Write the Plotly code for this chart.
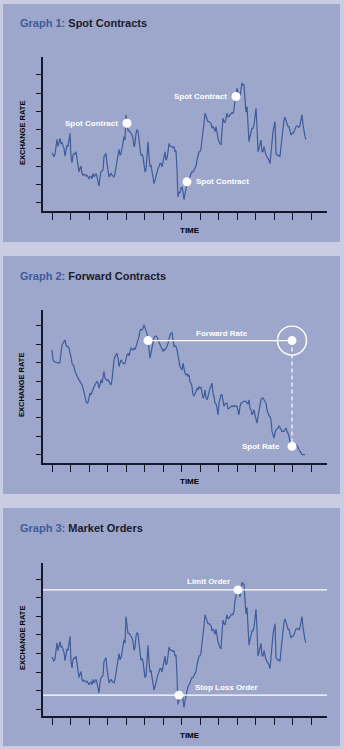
import plotly.graph_objects as go

# ---- data -------------------------------------------------------------
# Exchange-rate path shared by the spot-contract and market-order charts
spot_path = [
    17.2, 16.5, 16.0, 16.8, 20.0, 21.2, 19.0, 20.5, 21.5, 20.0,
    20.2, 19.3, 18.5, 16.2, 18.0, 19.5, 19.0, 21.0, 23.0, 16.0,
    14.2, 16.5, 17.0, 16.8, 17.5, 15.5, 13.0, 11.5, 12.5, 13.2,
    11.0, 10.5, 10.8, 10.5, 10.2, 10.5, 10.0, 9.5, 10.0, 10.2,
    9.5, 11.0, 10.0, 10.5, 11.0, 10.0, 8.5, 7.2, 10.0, 11.5,
    11.8, 12.0, 16.0, 16.8, 17.0, 14.0, 12.0, 10.0, 10.5, 11.0,
    10.5, 10.2, 10.0, 11.0, 13.0, 15.0, 16.5, 18.2, 16.5, 17.0,
    18.5, 20.0, 22.0, 21.0, 28.5, 26.0, 23.8, 23.8, 23.5, 23.0,
    22.5, 21.5, 19.0, 20.0, 23.0, 24.0, 23.7, 20.0, 18.5, 16.5,
    16.7, 16.0, 14.0, 11.5, 12.0, 16.0, 20.5, 16.0, 13.0, 13.5,
    11.5, 11.0, 8.0, 9.0, 10.5, 11.0, 12.5, 13.0, 14.0, 14.0,
    13.0, 14.5, 16.0, 17.5, 15.0, 15.5, 17.5, 20.0, 19.2, 19.2,
    19.0, 18.7, 19.0, 17.5, 17.8, 12.0, 4.0, 5.5, 5.2, 6.5,
    7.0, 5.5, 3.2, 5.0, 6.5, 8.5, 9.0, 9.5, 10.0, 11.0,
    11.5, 11.5, 12.0, 12.5, 13.2, 15.0, 17.0, 17.5, 17.5, 18.5,
    21.0, 23.0, 26.0, 29.0, 28.2, 27.8, 26.5, 26.5, 26.2, 26.0,
    24.5, 25.0, 24.5, 23.5, 25.0, 22.5, 21.5, 20.5, 19.8, 19.5,
    24.0, 27.5, 26.5, 26.2, 27.5, 29.0, 28.0, 28.0, 28.5, 29.0,
    29.2, 29.0, 30.0, 33.0, 34.0, 36.5, 35.0, 35.0, 34.0, 36.0,
    38.0, 37.5, 37.5, 33.0, 29.3, 31.0, 27.0, 20.5, 22.0, 23.5,
    24.5, 24.5, 25.5, 28.0, 30.5, 25.0, 17.5, 18.5, 19.5, 21.0,
    17.5, 17.5, 19.0, 17.0, 16.5, 16.0, 15.5, 15.0, 14.0, 18.0,
    22.0, 23.5, 25.0, 26.5, 17.0, 16.5, 16.3, 16.4, 16.0, 19.0,
    22.0, 25.5, 27.0, 27.8, 27.0, 26.0, 25.0, 25.0, 24.0, 22.5,
    23.0, 23.0, 23.5, 24.5, 25.0, 25.2, 25.0, 24.8, 25.5, 27.2,
    28.5, 25.5, 23.0, 22.0, 21.2,
]

# Exchange-rate path for the forward-contract chart
forward_path = [
    33.0, 30.0, 29.5, 29.4, 29.3, 29.2, 29.0, 29.0, 29.5, 33.0,
    34.5, 35.0, 35.8, 36.0, 34.5, 34.0, 34.0, 33.5, 32.0, 31.0,
    29.0, 28.5, 28.0, 26.5, 26.0, 25.2, 24.5, 24.0, 23.5, 23.0,
    22.5, 21.5, 20.5, 19.0, 17.5, 17.0, 17.2, 19.0, 20.0, 19.5,
    20.5, 21.5, 22.0, 22.5, 23.0, 23.5, 23.2, 21.5, 22.5, 24.0,
    23.0, 24.5, 26.5, 24.5, 24.0, 23.8, 24.0, 23.5, 23.0, 22.5,
    24.0, 28.5, 30.0, 31.0, 31.8, 32.0, 30.5, 28.0, 29.0, 30.0,
    29.5, 29.0, 28.8, 29.0, 30.5, 31.5, 32.0, 31.2, 32.5, 33.5,
    33.2, 33.0, 33.5, 33.2, 34.0, 35.0, 35.5, 37.0, 38.8, 39.2,
    39.0, 39.5, 40.5, 39.8, 39.0, 38.0, 36.0, 34.0, 30.5, 32.0,
    34.0, 36.0, 36.8, 37.0, 37.2, 36.8, 36.0, 35.2, 34.8, 34.0,
    33.2, 32.5, 33.2, 33.0, 33.5, 34.0, 35.0, 36.5, 37.5, 38.0,
    38.2, 36.0, 34.0, 34.2, 34.0, 33.0, 31.0, 28.5, 28.0, 27.5,
    27.0, 29.0, 27.2, 26.0, 25.5, 25.8, 25.0, 25.5, 23.5, 23.0,
    22.0, 19.5, 19.2, 19.8, 20.5, 21.5, 21.0, 22.0, 21.5, 21.8,
    20.5, 18.5, 19.0, 21.0, 18.5, 18.0, 19.0, 21.0, 21.5, 22.0,
    23.0, 20.0, 19.0, 17.0, 16.8, 15.5, 13.5, 17.0, 19.0, 19.5,
    19.5, 18.0, 16.0, 16.8, 16.8, 17.0, 15.2, 15.5, 15.8, 16.0,
    16.2, 16.0, 16.2, 16.0, 16.2, 16.0, 15.0, 13.5, 16.0, 17.0,
    17.2, 17.5, 17.5, 17.5, 17.5, 17.0, 16.8, 18.0, 15.5, 15.0,
    13.5, 14.0, 15.0, 13.5, 11.5, 11.0, 13.0, 15.0, 16.5, 18.0,
    18.5, 18.5, 18.0, 17.5, 17.0, 15.0, 14.0, 13.2, 13.0, 12.0,
    8.5, 7.0, 6.5, 8.0, 9.0, 9.2, 9.5, 10.2, 9.5, 9.0,
    8.5, 8.5, 8.5, 9.0, 9.5, 8.5, 8.0, 7.0, 5.5, 4.0,
    4.5, 5.0, 4.5, 4.2, 4.5, 4.2, 3.8, 3.0, 2.5, 1.8,
    1.5, 1.5, 1.5, 1.5,
]

# Points of interest (time index on the series)
spot_contract_days = [75, 135, 184]
forward_start_day = 96
settlement_day = 240
forward_rate = 35.8
spot_rate = 4.0
limit_order_level = 35.9
stop_loss_level = 6.6
limit_order_day = 186
stop_loss_day = 127

titles = [("Graph 1:", "Spot Contracts"),
          ("Graph 2:", "Forward Contracts"),
          ("Graph 3:", "Market Orders")]
x_label = "TIME"
y_label = "EXCHANGE RATE"

# ---- styling ----------------------------------------------------------
W, H = 344, 749
OUTER_BG = "#c9cde4"
PANEL_BG = "#9da7cb"
LINE_COL = "#3e5b9b"
AXIS_COL = "#14162a"
TITLE_BLUE = "#3d5b9c"
TITLE_DARK = "#1b1b29"
FONT = "Liberation Sans"


def px_x(p):
    return p / W


def px_y(p):
    return 1 - p / H


# panel boxes (top, bottom) and plot areas (top, bottom) in pixels
panels = [(4, 242), (256, 494), (508, 746)]
plots = [(57, 211), (310, 463), (563, 716)]
y_ranges = [(-0.2, 45.8), (-1.0, 45.0), (0.8, 43.4)]
y_ticks = [(2.2, 5.47), (1.5, 5.53), (2.64, 5.18)]
x_range = (-9, 275)
title_y = [23, 276, 528]
time_y = [230, 482, 735]
ylab_y = [133, 385, 638]

fig = go.Figure()
layout = dict(
    width=W, height=H, margin=dict(l=0, r=0, t=0, b=0),
    paper_bgcolor=OUTER_BG, plot_bgcolor=PANEL_BG, showlegend=False,
    shapes=[], annotations=[],
)

for k in range(3):
    sfx = "" if k == 0 else str(k + 1)
    top, bot = plots[k]
    layout["xaxis" + sfx] = dict(
        domain=[px_x(43), px_x(327)], range=list(x_range), anchor="y" + sfx,
        showline=True, linecolor=AXIS_COL, linewidth=1.6,
        ticks="outside", ticklen=7, tickwidth=1.4, tickcolor=AXIS_COL,
        tickmode="linear", tick0=0, dtick=18.5,
        showticklabels=False, showgrid=False, zeroline=False, fixedrange=True,
    )
    layout["yaxis" + sfx] = dict(
        domain=[px_y(bot), px_y(top)], range=list(y_ranges[k]), anchor="x" + sfx,
        showline=True, linecolor=AXIS_COL, linewidth=1.6,
        ticks="outside", ticklen=5, tickwidth=1.4, tickcolor=AXIS_COL,
        tickmode="linear", tick0=y_ticks[k][0], dtick=y_ticks[k][1],
        showticklabels=False, showgrid=False, zeroline=False, fixedrange=True,
    )
    p0, p1 = panels[k]
    layout["shapes"].append(dict(
        type="rect", xref="paper", yref="paper", layer="below",
        x0=px_x(3), x1=px_x(340), y0=px_y(p1), y1=px_y(p0),
        fillcolor=PANEL_BG, line=dict(width=0),
    ))
    blue, rest = titles[k]
    layout["annotations"].append(dict(
        xref="paper", yref="paper", x=px_x(18), y=px_y(title_y[k]),
        xanchor="left", yanchor="middle", showarrow=False,
        text=f"<b><span style='color:{TITLE_BLUE}'>{blue}</span> {rest}</b>",
        font=dict(family=FONT, size=11, color=TITLE_DARK),
    ))
    layout["annotations"].append(dict(
        xref="paper", yref="paper", x=px_x(190), y=px_y(time_y[k]),
        xanchor="center", yanchor="middle", showarrow=False,
        text=f"<b>{x_label}</b>", font=dict(family=FONT, size=8, color="#000000"),
    ))
    layout["annotations"].append(dict(
        xref="paper", yref="paper", x=px_x(22), y=px_y(ylab_y[k]),
        xanchor="center", yanchor="middle", showarrow=False, textangle=-90,
        text=f"<b>{y_label}</b>", font=dict(family=FONT, size=7.5, color="#000000"),
    ))

# ---- graph 1: spot contracts -----------------------------------------
days1 = list(range(len(spot_path)))
fig.add_trace(go.Scatter(x=days1, y=spot_path, mode="lines",
                         line=dict(color=LINE_COL, width=1.2),
                         xaxis="x", yaxis="y", hoverinfo="skip"))
fig.add_trace(go.Scatter(
    x=spot_contract_days, y=[spot_path[d] for d in spot_contract_days],
    mode="markers", marker=dict(color="white", size=9),
    xaxis="x", yaxis="y", hoverinfo="skip"))
label_font = dict(family=FONT, size=8, color="white")
for d, side in zip(spot_contract_days, ["left", "right", "left"]):
    layout["annotations"].append(dict(
        xref="x", yref="y", x=d, y=spot_path[d], showarrow=False,
        text="<b>Spot Contract</b>", font=label_font,
        xanchor="right" if side == "left" else "left", yanchor="middle",
        xshift=-7 if side == "left" else 7,
    ))

# ---- graph 2: forward contracts --------------------------------------
days2 = list(range(len(forward_path)))
fig.add_trace(go.Scatter(x=days2, y=forward_path, mode="lines",
                         line=dict(color=LINE_COL, width=1.2),
                         xaxis="x2", yaxis="y2", hoverinfo="skip"))
fig.add_trace(go.Scatter(x=[forward_start_day, settlement_day],
                         y=[forward_rate, forward_rate], mode="lines",
                         line=dict(color="white", width=1.4),
                         xaxis="x2", yaxis="y2", hoverinfo="skip"))
fig.add_trace(go.Scatter(x=[settlement_day, settlement_day],
                         y=[forward_rate, spot_rate], mode="lines",
                         line=dict(color="white", width=1.2, dash="4px,3px"),
                         xaxis="x2", yaxis="y2", hoverinfo="skip"))
fig.add_trace(go.Scatter(
    x=[forward_start_day, settlement_day, settlement_day],
    y=[forward_rate, forward_rate, spot_rate],
    mode="markers", marker=dict(color="white", size=9),
    xaxis="x2", yaxis="y2", hoverinfo="skip"))
fig.add_trace(go.Scatter(
    x=[settlement_day], y=[forward_rate], mode="markers",
    marker=dict(color="rgba(0,0,0,0)", size=29, line=dict(color="white", width=1.4)),
    xaxis="x2", yaxis="y2", hoverinfo="skip"))
layout["annotations"].append(dict(
    xref="x2", yref="y2", x=(forward_start_day + settlement_day) / 2 + 2,
    y=forward_rate, showarrow=False, text="<b>Forward Rate</b>",
    font=label_font, xanchor="center", yanchor="bottom", yshift=1))
layout["annotations"].append(dict(
    xref="x2", yref="y2", x=settlement_day, y=spot_rate, showarrow=False,
    text="<b>Spot Rate</b>", font=label_font,
    xanchor="right", yanchor="middle", xshift=-10))

# ---- graph 3: market orders ------------------------------------------
fig.add_trace(go.Scatter(x=days1, y=spot_path, mode="lines",
                         line=dict(color=LINE_COL, width=1.2),
                         xaxis="x3", yaxis="y3", hoverinfo="skip"))
for lvl in (limit_order_level, stop_loss_level):
    layout["shapes"].append(dict(
        type="line", xref="x3 domain", yref="y3", x0=0, x1=1, y0=lvl, y1=lvl,
        line=dict(color="white", width=1.3)))
fig.add_trace(go.Scatter(
    x=[limit_order_day, stop_loss_day], y=[limit_order_level, stop_loss_level],
    mode="markers", marker=dict(color="white", size=9),
    xaxis="x3", yaxis="y3", hoverinfo="skip"))
layout["annotations"].append(dict(
    xref="x3", yref="y3", x=limit_order_day - 6, y=limit_order_level,
    showarrow=False, text="<b>Limit Order</b>", font=label_font,
    xanchor="right", yanchor="bottom", yshift=2))
layout["annotations"].append(dict(
    xref="x3", yref="y3", x=stop_loss_day + 14, y=stop_loss_level,
    showarrow=False, text="<b>Stop Loss Order</b>", font=label_font,
    xanchor="left", yanchor="bottom", yshift=1))

fig.update_layout(**layout)
fig.write_html("out.html", config={"displayModeBar": False})
